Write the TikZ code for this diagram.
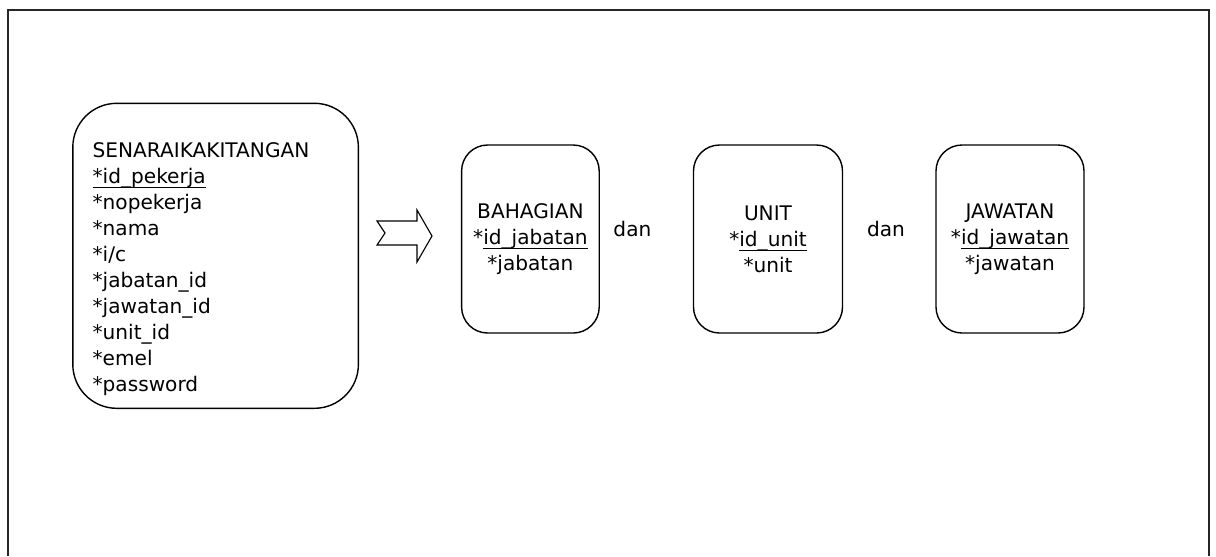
\documentclass[tikz,border=0pt]{standalone}
\usepackage{fontspec}
\setmainfont{DejaVu Sans}
\usepackage{tikz}
\usetikzlibrary{positioning, shapes, calc}

% key attribute: underline drawn at a fixed depth
\newcommand{\keyattr}[1]{\leavevmode\setbox0=\hbox{#1}\rlap{\rule[-3.3pt]{\wd0}{0.7pt}}\box0}

\begin{document}
\begin{tikzpicture}[
    every node/.style={font=\fontsize{14.3pt}{18.5pt}\selectfont, inner sep=0pt},
    bigbox/.style={draw, line width=1pt, rounded corners=1.1cm},
    tablebox/.style={draw, line width=1pt, rounded corners=0.65cm,
      minimum height=4.7cm, text width=#1, align=center}]
      \useasboundingbox (0,0) rectangle (30.4,-13.9);

      % Outer frame, open at the bottom
      \draw[line width=1.4pt, black!85] (0.2,-13.9) -- (0.2,-0.25) -- (30.225,-0.25) -- (30.225,-13.9);

      % Staff list table
      \node[bigbox, minimum width=7.14cm, minimum height=7.625cm] (senarai) at (5.39,-6.395) {};
      \node[anchor=north west, text width=6.5cm, align=left] (senaraiattr) at (2.31,-3.565) {%
        SENARAIKAKITANGAN\\
        \keyattr{*id\_pekerja}\\
        {*}nopekerja\\
        {*}nama\\
        {*}i/c\\
        {*}jabatan\_id\\
        {*}jawatan\_id\\
        {*}unit\_id\\
        {*}emel\\
        {*}password};

      % Split arrow
      \draw[line width=0.8pt] (9.425,-5.525) -- (9.625,-5.825) -- (9.425,-6.125)
        -- (10.425,-6.125) -- (10.425,-6.55) -- (10.8,-5.9) -- (10.425,-5.25)
        -- (10.425,-5.525) -- cycle;

      % Lookup tables
      \node[tablebox=3.44cm] (bahagian) at (13.26,-5.975)
        {BAHAGIAN\\ {*}\keyattr{id\_jabatan}\\ {*}jabatan};
      \node[tablebox=3.725cm] (unit) at (19.2,-5.975)
        {UNIT\\ {*}\keyattr{id\_unit}\\ {*}unit};
      \node[tablebox=3.7cm] (jawatan) at (25.25,-5.975)
        {JAWATAN\\ {*}\keyattr{id\_jawatan}\\ {*}jawatan};

      \node[anchor=base] (dan1) at (15.81,-5.92) {dan};
      \node[anchor=base] (dan2) at (22.15,-5.92) {dan};
    \end{tikzpicture}
\end{document}
